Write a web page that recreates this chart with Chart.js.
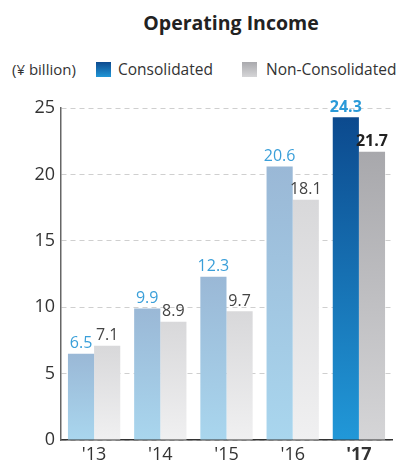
<!DOCTYPE html>
<html>
<head>
<meta charset="utf-8">
<script src="https://cdn.jsdelivr.net/npm/chart.js@4"></script>
<style>
  html, body { margin: 0; padding: 0; background: #fff; }
  body { width: 401px; height: 464px; position: relative; overflow: hidden; font-family: "Open Sans", sans-serif; color: #333; }
  #title { position: absolute; left: 0; width: 462px; top: 9px; text-align: center; font-weight: bold; font-size: 19.5px; color: #222; }
  #legend { position: absolute; top: 59px; left: 12px; font-size: 15px; white-space: nowrap; }
  #legend span { position: absolute; top: 0; }
  .sw { width: 15px; height: 15px; top: 3px !important; }
  .lt { font-size: 15.5px; top: -1px !important; }
  #wrap { position: absolute; left: 0; top: 0; width: 401px; height: 464px; }
</style>
</head>
<body>
<div id="title">Operating Income</div>
<div id="legend">
  <span style="left:0">(¥ billion)</span>
  <span class="sw" style="left:84px;background:linear-gradient(#0d4a8f,#2196d6)"></span>
  <span class="lt" style="left:106px">Consolidated</span>
  <span class="sw" style="left:230px;background:linear-gradient(#a9a9ad,#d5d5d7)"></span>
  <span class="lt" style="left:254px">Non-Consolidated</span>
</div>
<div id="wrap"><canvas id="myChart"></canvas></div>
<script>
var years = ["'13", "'14", "'15", "'16", "'17"];
var consolidated = [6.5, 9.9, 12.3, 20.6, 24.3];
var nonConsolidated = [7.1, 8.9, 9.7, 18.1, 21.7];
var yTicks = [0, 5, 10, 15, 20, 25];

// gradient spanning one bar, from its top to the axis
function barGradient(context, topColor, bottomColor) {
  var chart = context.chart;
  if (!chart.chartArea || !chart.scales.y) return topColor;
  var yTop = chart.scales.y.getPixelForValue(context.raw);
  var yBase = chart.scales.y.getPixelForValue(0);
  var g = chart.ctx.createLinearGradient(0, yTop, 0, yBase);
  g.addColorStop(0, topColor);
  g.addColorStop(1, bottomColor);
  return g;
}

var last = years.length - 1;

var valueLabels = {
  id: 'valueLabels',
  afterDatasetsDraw: function(chart) {
    var ctx = chart.ctx;
    ctx.save();
    ctx.textAlign = 'center';
    ctx.textBaseline = 'bottom';
    chart.data.datasets.forEach(function(ds, di) {
      var meta = chart.getDatasetMeta(di);
      meta.data.forEach(function(bar, i) {
        var bold = i === last;
        ctx.font = (bold ? 'bold ' : '') + '16px "Open Sans"';
        if (di === 0) ctx.fillStyle = bold ? '#2a9ad8' : '#3a9fd9';
        else ctx.fillStyle = bold ? '#222' : '#444';
        ctx.fillText(ds.data[i].toFixed(1), bar.x, bar.y - 2);
      });
    });
    ctx.restore();
  }
};

var ctx = document.getElementById("myChart").getContext("2d");
var myChart = new Chart(ctx, {
  type: 'bar',
  data: {
    labels: years,
    datasets: [
      {
        label: 'Consolidated',
        data: consolidated,
        backgroundColor: function(c) {
          return c.dataIndex === last ? barGradient(c, '#0c4a8e', '#2198d8') : barGradient(c, '#9ab8d6', '#a9d6ee');
        }
      },
      {
        label: 'Non-Consolidated',
        data: nonConsolidated,
        backgroundColor: function(c) {
          return c.dataIndex === last ? barGradient(c, '#a8a8ac', '#d5d5d7') : barGradient(c, '#d8d8da', '#f0f0f1');
        }
      }
    ]
  },
  options: {
    responsive: true,
    maintainAspectRatio: false,
    animation: false,
    categoryPercentage: 0.79,
    barPercentage: 1.0,
    layout: { padding: { top: 108, right: 9, left: 6, bottom: 0 } },
    plugins: {
      legend: { display: false },
      tooltip: { enabled: false }
    },
    scales: {
      x: {
        grid: { display: false },
        border: { color: '#333', width: 1.5 },
        afterFit: function(axis) { axis.height = 24; },
        ticks: {
          color: '#333',
          padding: -4,
          font: function(c) {
            return { family: 'Open Sans', size: 18, weight: c.index === last ? 'bold' : 'normal' };
          }
        }
      },
      y: {
        min: 0,
        max: 25,
        afterBuildTicks: function(axis) {
          axis.ticks = yTicks.map(function(v) { return { value: v }; });
        },
        afterFit: function(axis) { axis.width = 55; },
        grid: { color: '#cfcfcf', drawTicks: false },
        border: { color: '#666', width: 1.5, dash: [5, 4] },
        ticks: { color: '#333', padding: 6, font: { family: 'Open Sans', size: 18 } }
      }
    }
  },
  plugins: [valueLabels]
});
</script>
</body>
</html>
